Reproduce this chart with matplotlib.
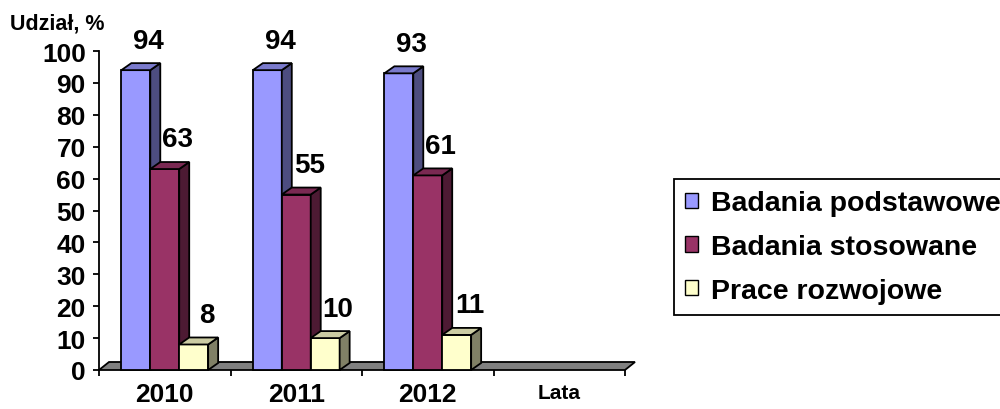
import numpy as np
import matplotlib.pyplot as plt
from matplotlib.patches import Polygon, Patch

plt.rcParams['font.family'] = ['Liberation Sans', 'DejaVu Sans']
plt.rcParams['font.weight'] = 'bold'

years = ['2010', '2011', '2012']
series = ['Badania podstawowe', 'Badania stosowane', 'Prace rozwojowe']
podstawowe = [94, 94, 93]
stosowane = [63, 55, 61]
rozwojowe = [8, 10, 11]
values = [podstawowe, stosowane, rozwojowe]

front = ['#9999FF', '#993366', '#FFFFCC']
top = ['#7A7ACC', '#7A2952', '#CCCCA3']
side = ['#4D4D80', '#4D1A33', '#808066']

W, H, DPI = 10, 4.1, 100
fig = plt.figure(figsize=(W, H), dpi=DPI)
ax = fig.add_axes([0.099, 39 / 410, 0.526, 319 / 410])
ax.set_xlim(-0.5, 3.5)
ax.set_ylim(0, 100)

# pixel -> data scale
sx = 0.526 * W * DPI / 4.0
sy = 319 / 100.0
dx, dy = 10 / sx, 7 / sy

# floor
fdx, fdy = 10 / sx, 8 / sy
ax.add_patch(Polygon([(-0.5, 0), (3.5, 0), (3.5 + fdx, fdy), (-0.5 + fdx, fdy)],
                     closed=True, facecolor='#808080', edgecolor='black',
                     linewidth=1.3, clip_on=False, zorder=1))

bw = 0.22
for c in range(len(years)):
    for s in range(len(series)):
        h = values[s][c]
        x0 = c + (s - 1) * bw - bw / 2
        x1 = x0 + bw
        kw = dict(closed=True, edgecolor='black', linewidth=1.3, clip_on=False,
                  zorder=2 + s)
        ax.add_patch(Polygon([(x0, 0), (x1, 0), (x1, h), (x0, h)], facecolor=front[s], **kw))
        ax.add_patch(Polygon([(x1, 0), (x1 + dx, dy), (x1 + dx, h + dy), (x1, h)],
                             facecolor=side[s], **kw))
        ax.add_patch(Polygon([(x0, h), (x0 + dx, h + dy), (x1 + dx, h + dy), (x1, h)],
                             facecolor=top[s], **kw))
        ax.text(x0 + bw / 2 + dx / 2 + 0.06, h + dy + 3.0, str(h), ha='center',
                va='bottom', fontsize=20, fontweight='bold', zorder=10)

for sp in ['top', 'right', 'bottom']:
    ax.spines[sp].set_visible(False)
ax.spines['left'].set_linewidth(1.3)

ax.set_yticks(np.arange(0, 101, 10))
ax.tick_params(axis='y', direction='out', length=4.5, width=1.3, pad=5.0,
               labelsize=19)
ax.set_xticks(range(len(years)))
ax.set_xticklabels(years)
ax.set_xticks(np.arange(-0.5, 3.6, 1), minor=True)
ax.tick_params(axis='x', which='major', length=0, pad=9, labelsize=19)
ax.tick_params(axis='x', which='minor', direction='out', length=4.5, width=1.3)
for t in ax.get_yticklabels() + ax.get_xticklabels():
    t.set_fontweight('bold')

ax.text(3, -4.0, 'Lata', ha='center', va='top', fontsize=15, fontweight='bold')
fig.text(0.01, 1 - 24 / 410, 'Udział, %', ha='left', va='center',
         fontsize=15.5, fontweight='bold')

handles = [Patch(facecolor=front[i], edgecolor='black', linewidth=1) for i in range(3)]
leg = fig.legend(handles=handles, labels=series, loc='upper left',
                 bbox_to_anchor=(674 / 1000, 1 - 180 / 410), borderaxespad=0,
                 fontsize=20.5, handlelength=0.45, handleheight=0.45,
                 handletextpad=0.45, labelspacing=0.62, borderpad=0.4,
                 fancybox=False, edgecolor='black', framealpha=1)
leg.get_frame().set_linewidth(1.3)
for t in leg.get_texts():
    t.set_fontweight('bold')

fig.savefig('out.png', dpi=DPI)
